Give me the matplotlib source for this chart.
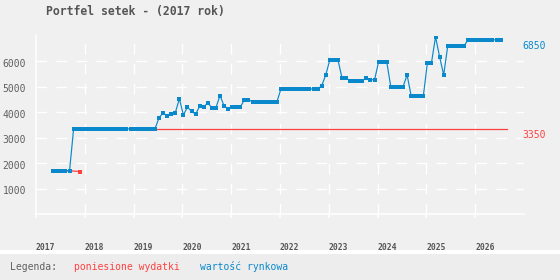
import matplotlib
matplotlib.use("Agg")
import matplotlib.pyplot as plt
from matplotlib.patches import Rectangle
from matplotlib.transforms import ScaledTranslation
import numpy as np

# ---- data ----
title = "Portfel setek - (2017 rok)"
start_year = 2017
start_month = 5          # first observation (May 2017)
market_values = [
    1700, 1700, 1700, 1700, 1700,
    3350, 3350, 3350, 3350, 3350, 3350, 3350, 3350, 3350, 3350, 3350,
    3350, 3350, 3350, 3350, 3350, 3350, 3350, 3350, 3350, 3350,
    3780, 3980, 3860, 3940, 3980, 4530, 3900, 4200, 4040, 3920,
    4250, 4210, 4370, 4180, 4180, 4660, 4250, 4140, 4210, 4210,
    4210, 4490, 4490,
    4420, 4420, 4420, 4420, 4420, 4420, 4420,
    4920, 4920, 4920, 4920, 4920, 4920, 4920, 4920, 4920, 4920,
    5040, 5470, 6060, 6060, 6060, 5350, 5350,
    5240, 5240, 5240, 5240, 5350, 5280, 5280,
    5980, 5980, 5980, 5000, 5000, 5000, 5000, 5470,
    4650, 4650, 4650, 4650, 5950, 5950, 6970, 6180, 5470,
    6610, 6610, 6610, 6610, 6610,
    6850, 6850, 6850, 6850, 6850, 6850, 6850, 6850, 6850,
]
spend_early_years = [2017.35, 2017.68, 2017.91]
spend_early_values = [1700, 1700, 1670]
spend_years = [2019.44, 2026.66]
spend_values = [3350, 3350]
last_market = 6850
last_spend = 3350
year_ticks = list(range(2017, 2027))
value_ticks = [1000, 2000, 3000, 4000, 5000, 6000]
legend_label = "Legenda:"
series_names = ["poniesione wydatki", "wartość rynkowa"]

# ---- styling ----
BG = "#f0f0f0"
BLUE = "#0a88cc"
RED = "#ff4040"
GRAY = "#606060"
MONO = ["DejaVu Sans Mono"]

month_idx = np.arange(len(market_values))
market_years = start_year + (start_month - 1 + 0.25 + month_idx) / 12.0

fig = plt.figure(figsize=(5.6, 2.8), dpi=100, facecolor=BG)
ax = fig.add_axes([36/560, 66/280, (524 - 36)/560, (214 - 36)/280])
ax.set_facecolor(BG)
ax.set_xlim(2017, 2027)
ax.set_ylim(0, 7000)

# grid
for v in value_ticks:
    ax.axhline(v, color="white", lw=1.0, dashes=(7.7, 6.7), zorder=1)
for y in year_ticks[1:]:
    ax.axvline(y, color="white", lw=1.0, dashes=(7.7, 6.7), zorder=1)

for s in ["top", "right"]:
    ax.spines[s].set_visible(False)
for s in ["left", "bottom"]:
    ax.spines[s].set_color("white")
    ax.spines[s].set_linewidth(1.1)

ax.set_xticks(year_ticks)
ax.set_xticklabels([str(y) for y in year_ticks], ha="left",
                   fontfamily=MONO, fontweight="bold", fontsize=5.8, color="#555555")
ax.set_yticks(value_ticks)
ax.set_yticklabels([str(v) for v in value_ticks], fontfamily=MONO,
                   fontsize=7, color=GRAY)
ax.tick_params(axis="x", length=3, color="white", width=1.1, pad=18)
ax.tick_params(axis="y", length=0, pad=7)
shift = ScaledTranslation(0, -2.5/100, fig.dpi_scale_trans)
for lbl in ax.get_yticklabels():
    lbl.set_va("center")
    lbl.set_transform(lbl.get_transform() + shift)

# series
ax.plot(spend_years, spend_values, color=RED, lw=0.9, zorder=3)
ax.plot(spend_early_years, spend_early_values, color=RED, lw=0.9, zorder=3)
ax.plot(spend_early_years[-1:], spend_early_values[-1:], "s", color=RED,
        ms=2.4, mew=0, zorder=3)
ax.plot(market_years, market_values, color=BLUE, lw=0.85, marker="s",
        ms=2.35, mew=0, zorder=4)

# end labels
ax.annotate(str(last_market), xy=(1.0, last_market),
            xycoords=("axes fraction", "data"), xytext=(-1, -4.5),
            textcoords="offset points", ha="left", va="center",
            fontfamily=MONO, fontsize=7, color=BLUE, annotation_clip=False)
ax.annotate(str(last_spend), xy=(1.0, last_spend),
            xycoords=("axes fraction", "data"), xytext=(-1, -4.8),
            textcoords="offset points", ha="left", va="center",
            fontfamily=MONO, fontsize=7, color=RED, annotation_clip=False)

# title
fig.text(46/560, 1 - 12/280, title, fontfamily=MONO, fontweight="bold",
         fontsize=8.3, color="#555555", ha="left", va="center")

# legend band
fig.patches.append(Rectangle((0, 0), 1, 26/280, transform=fig.transFigure,
                             facecolor="#ededed", edgecolor="none", zorder=0))
fig.patches.append(Rectangle((0, 26/280), 1, 4/280, transform=fig.transFigure,
                             facecolor="white", edgecolor="none", zorder=0))
ly = 1 - 267/280
fig.text(10/560, ly, legend_label, fontfamily=MONO, fontsize=7, color=GRAY,
         va="center", ha="left")
fig.text(74.5/560, ly, series_names[0], fontfamily=MONO, fontsize=7, color=RED,
         va="center", ha="left")
fig.text(200/560, ly, series_names[1], fontfamily=MONO, fontsize=7, color=BLUE,
         va="center", ha="left")

fig.savefig("out.png", dpi=100, facecolor=BG)
